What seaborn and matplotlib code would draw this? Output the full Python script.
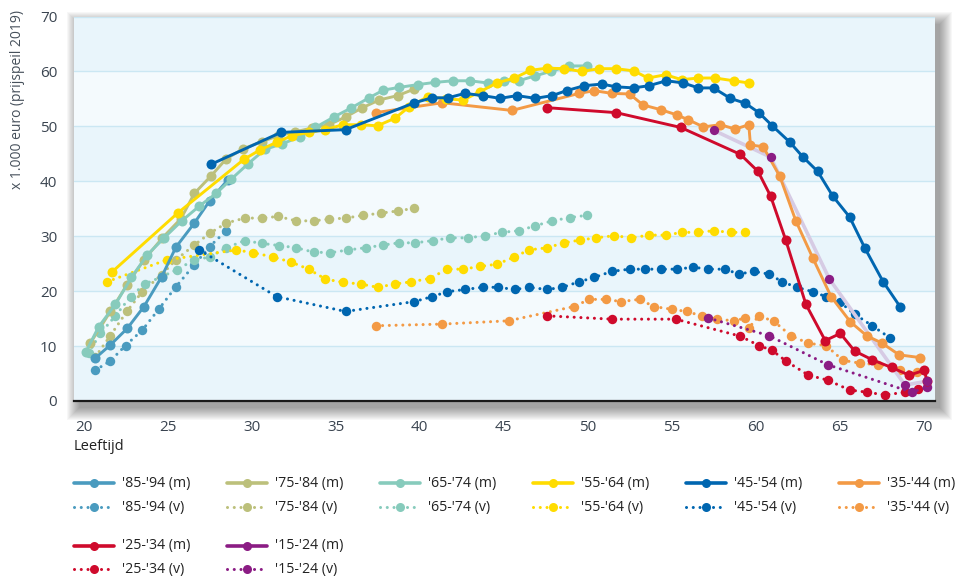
import matplotlib
matplotlib.use("Agg")
import matplotlib.pyplot as plt
from matplotlib.lines import Line2D
from matplotlib.patches import Rectangle
import seaborn as sns

# Inkomen naar leeftijd per geboortecohort, x 1.000 euro (prijspeil 2019)
age_85m = [20.7, 21.6, 22.6, 23.6, 24.65, 25.5, 26.6, 27.5, 28.6]
inc_85m = [7.8, 10.2, 13.2, 17.2, 22.6, 28.0, 32.4, 36.4, 40.3]
age_85v = [20.7, 21.6, 22.5, 23.5, 24.5, 25.5, 26.6, 27.5, 28.5]
inc_85v = [5.6, 7.3, 10.1, 12.9, 16.8, 20.8, 24.8, 28.1, 31.0]

age_75m = [20.4, 21.6, 22.6, 23.6, 24.7, 25.8, 26.6, 27.6, 28.5, 29.5, 30.6, 31.6, 32.6,
           33.6, 34.6, 35.6, 36.6, 37.6, 38.7, 39.7]
inc_75m = [10.5, 16.3, 21.2, 25.7, 29.7, 33.2, 37.8, 41.0, 44.1, 45.9, 47.2, 48.3, 49.0,
           49.7, 50.3, 51.7, 53.4, 54.8, 55.6, 56.8]
age_75v = [20.7, 21.6, 22.6, 23.5, 24.65, 25.5, 26.6, 27.5, 28.5, 29.6, 30.6, 31.6, 32.65,
           33.7, 34.6, 35.6, 36.65, 37.7, 38.7, 39.7]
inc_75v = [8.0, 11.9, 16.4, 19.9, 23.0, 25.7, 28.4, 30.5, 32.4, 33.3, 33.3, 33.6, 32.8,
           32.8, 33.1, 33.3, 33.8, 34.2, 34.6, 35.1]

age_65m = [20.15, 20.9, 21.9, 22.85, 23.8, 24.8, 25.85, 26.9, 27.9, 28.8, 29.8, 30.8, 31.8,
           32.9, 33.8, 34.9, 35.9, 37.0, 37.85, 38.8, 39.9, 40.9, 42.0, 43.0, 44.05, 45.0,
           45.9, 46.9, 47.8, 48.9, 49.95]
inc_65m = [9.0, 13.5, 17.6, 22.5, 26.6, 29.7, 32.8, 35.5, 37.8, 40.4, 43.2, 45.8, 46.8,
           48.1, 49.8, 51.7, 53.3, 55.2, 56.6, 57.1, 57.6, 58.0, 58.3, 58.3, 57.9, 58.3,
           58.3, 59.2, 60.0, 61.0, 61.0]
age_65v = [20.3, 21.0, 21.9, 22.8, 23.65, 24.65, 25.55, 26.6, 27.5, 28.5, 29.6, 30.6, 31.65,
           32.65, 33.7, 34.7, 35.75, 36.8, 37.85, 38.8, 39.75, 40.8, 41.8, 42.9, 43.9, 44.9,
           45.9, 46.9, 47.9, 48.95, 49.95]
inc_65v = [8.7, 12.3, 15.5, 19.0, 21.3, 22.6, 23.9, 25.7, 26.2, 27.9, 29.2, 28.7, 28.3,
           27.9, 27.1, 27.0, 27.5, 27.9, 28.4, 28.8, 28.8, 29.2, 29.7, 29.7, 30.1, 30.7,
           31.0, 31.9, 32.8, 33.4, 33.8]

age_55m = [21.7, 25.6, 29.55, 30.5, 31.5, 32.4, 33.4, 34.4, 35.45, 36.5, 37.5, 38.55, 39.4,
           40.5, 41.6, 42.6, 43.6, 44.6, 45.65, 46.6, 47.6, 48.6, 49.65, 50.7, 51.7, 52.75,
           53.6, 54.65, 55.6, 56.6, 57.6, 58.7, 59.6]
inc_55m = [23.5, 34.2, 44.0, 45.7, 47.1, 48.3, 48.9, 49.4, 50.3, 50.3, 50.1, 51.5, 53.6,
           55.4, 55.0, 54.8, 56.3, 57.9, 58.8, 60.2, 60.6, 60.5, 60.0, 60.5, 60.5, 60.1,
           58.8, 59.4, 58.5, 58.8, 58.8, 58.3, 57.9]
age_55v = [21.4, 24.95, 29.1, 30.1, 31.3, 32.35, 33.4, 34.4, 35.45, 36.5, 37.5, 38.55, 39.5,
           40.6, 41.65, 42.6, 43.6, 44.6, 45.65, 46.5, 47.6, 48.6, 49.55, 50.5, 51.6, 52.6,
           53.65, 54.7, 55.6, 56.6, 57.5, 58.55, 59.4]
inc_55v = [21.7, 25.7, 27.5, 27.0, 26.2, 25.3, 24.0, 22.2, 21.6, 21.3, 20.7, 21.3, 21.7,
           22.3, 24.0, 24.0, 24.5, 24.9, 26.2, 27.5, 27.9, 28.8, 29.3, 29.7, 30.1, 29.7,
           30.2, 30.2, 30.7, 30.7, 31.0, 30.7, 30.7]

age_45m = [27.6, 31.75, 35.6, 39.7, 40.75, 41.7, 42.7, 43.75, 44.8, 45.8, 46.9, 47.9, 48.75,
           49.8, 50.85, 51.7, 52.75, 53.65, 54.7, 55.7, 56.6, 57.5, 58.5, 59.4, 60.2, 61.0,
           62.05, 62.8, 63.7, 64.6, 65.6, 66.5, 67.6, 68.6]
inc_45m = [43.1, 48.9, 49.4, 54.3, 55.2, 55.2, 56.0, 55.6, 55.1, 55.6, 55.1, 55.6, 56.5,
           57.4, 57.7, 57.2, 57.0, 57.4, 58.3, 57.9, 57.0, 57.0, 55.1, 54.2, 52.5, 50.1,
           47.1, 44.5, 41.8, 37.3, 33.5, 27.9, 21.7, 17.2]
age_45v = [26.9, 31.5, 35.6, 39.7, 40.75, 41.65, 42.7, 43.75, 44.65, 45.7, 46.5, 47.6, 48.5,
           49.5, 50.4, 51.45, 52.5, 53.4, 54.4, 55.3, 56.3, 57.2, 58.2, 59.0, 59.9, 60.8,
           61.6, 62.45, 63.4, 64.2, 65.0, 65.9, 66.95, 68.0]
inc_45v = [27.5, 19.0, 16.3, 18.1, 19.0, 19.9, 20.3, 20.7, 20.7, 20.3, 20.7, 20.3, 20.7,
           21.7, 22.5, 23.6, 24.0, 24.0, 24.0, 24.0, 24.35, 24.0, 24.0, 23.1, 23.6, 23.1,
           21.7, 20.7, 19.9, 19.0, 18.1, 15.8, 13.7, 11.5]

age_35m = [37.4, 41.35, 45.5, 49.5, 50.4, 51.45, 52.5, 53.3, 54.4, 55.3, 56.0, 56.9, 57.9,
           58.8, 59.6, 59.7, 60.45, 61.45, 62.4, 63.4, 64.5, 65.65, 66.65, 67.5, 68.55, 69.8]
inc_35m = [52.5, 54.3, 52.9, 56.0, 56.5, 56.0, 55.9, 53.9, 53.0, 52.1, 51.2, 49.9, 50.3,
           49.5, 50.3, 46.6, 46.3, 40.9, 32.8, 26.1, 19.0, 14.4, 11.8, 10.6, 8.4, 7.9]
age_35v = [37.4, 41.35, 45.3, 49.2, 50.1, 51.1, 52.0, 53.1, 53.95, 55.0, 55.9, 56.8, 57.7,
           58.7, 59.4, 59.6, 60.2, 61.1, 62.1, 63.15, 64.2, 65.2, 66.2, 67.3, 68.6, 69.6]
inc_35v = [13.7, 14.0, 14.6, 17.2, 18.5, 18.5, 18.1, 18.5, 17.2, 16.7, 16.3, 15.5, 14.9,
           14.6, 15.1, 13.3, 15.5, 14.5, 11.9, 10.5, 10.1, 7.4, 6.9, 6.6, 5.6, 5.2]

age_25m = [47.6, 51.7, 55.55, 59.1, 60.15, 60.9, 61.8, 63.0, 64.15, 65.05, 65.9, 66.95,
           68.1, 69.15, 70.05, 70.2]
inc_25m = [53.4, 52.5, 49.8, 44.9, 41.8, 37.3, 29.3, 17.6, 11.0, 12.3, 9.1, 7.5,
           6.1, 4.7, 5.6, 3.7]
age_25v = [47.6, 51.45, 55.25, 59.1, 60.2, 61.0, 61.8, 63.15, 64.3, 65.6, 66.65, 67.7,
           68.9, 69.65]
inc_25v = [15.5, 14.9, 14.9, 11.8, 10.1, 9.2, 7.3, 4.7, 3.8, 2.0, 1.6, 1.1, 1.6, 2.1]

age_15m = [57.5, 60.9, 64.4, 68.9, 70.2]
inc_15m = [49.3, 44.4, 22.2, 2.9, 3.6]
age_15v = [57.2, 60.8, 64.3, 69.3, 70.2]
inc_15v = [15.1, 11.9, 6.6, 1.6, 2.5]

cohorts = ["'85-'94", "'75-'84", "'65-'74", "'55-'64", "'45-'54", "'35-'44", "'25-'34", "'15-'24"]
colors = ["#4a9bbf", "#bcc07b", "#87cbbc", "#ffdc00", "#0066b0", "#f39a45", "#cf0a2c", "#8b1c84"]
lavender = "#d6cbe4"

men = [(age_85m, inc_85m), (age_75m, inc_75m), (age_65m, inc_65m), (age_55m, inc_55m),
       (age_45m, inc_45m), (age_35m, inc_35m), (age_25m, inc_25m), (age_15m, inc_15m)]
women = [(age_85v, inc_85v), (age_75v, inc_75v), (age_65v, inc_65v), (age_55v, inc_55v),
         (age_45v, inc_45v), (age_35v, inc_35v), (age_25v, inc_25v), (age_15v, inc_15v)]

W, H = 959, 578
DOT = (0, (0.01, 2.2))

sns.set_theme(style="white")
plt.rcParams["font.family"] = ["Open Sans", "DejaVu Sans"]

fig = plt.figure(figsize=(W / 100, H / 100), dpi=100)
ax_l, ax_r, ax_t, ax_b = 74, 935, 16.5, 401
ax = fig.add_axes([ax_l / W, 1 - ax_b / H, (ax_r - ax_l) / W, (ax_b - ax_t) / H])

# drop shadow behind the plot area
for i in range(13):
    fig.add_artist(Rectangle(((ax_l + 5 - i) / W, 1 - (ax_b + 7 + i) / H),
                             (ax_r - ax_l + 2 * i) / W, (ax_b - ax_t + 2 * i) / H,
                             transform=fig.transFigure, color="black", alpha=0.03,
                             lw=0, zorder=-1))

ax.set_facecolor("#f4fafd")
for lo in range(0, 70, 20):
    ax.axhspan(lo, lo + 10, color="#e9f5fb", lw=0, zorder=0)
for g in range(10, 80, 10):
    ax.axhline(g, color="#cbe7f3", lw=1, zorder=0.5)

# women first (dotted), then men (solid)
for (ages, vals), col in zip(women, colors):
    sns.lineplot(x=ages, y=vals, ax=ax, color=col, lw=2.2, linestyle=DOT,
                 dash_capstyle="round", marker="o", ms=6.8, mec=col, mew=0,
                 estimator=None, sort=False, legend=False, zorder=2)

for k in [7, 6, 5, 0, 1, 2, 3, 4]:
    ages, vals = men[k]
    col = colors[k]
    if k == 7:
        sns.lineplot(x=ages, y=vals, ax=ax, color=lavender, lw=2.6,
                     estimator=None, sort=False, legend=False, zorder=3)
        sns.scatterplot(x=ages, y=vals, ax=ax, color=col, s=45, linewidth=0,
                        legend=False, zorder=4)
    else:
        sns.lineplot(x=ages, y=vals, ax=ax, color=col, lw=2.1, marker="o", ms=7.2,
                     mec=col, mew=0, estimator=None, sort=False, legend=False, zorder=3)

ax.set_xlim(20 + (ax_l - 83.5) / 16.8, 20 + (ax_r - 83.5) / 16.8)
ax.set_ylim(0, 70)
ax.set_xticks(range(20, 71, 5))
ax.set_yticks(range(0, 71, 10))
ax.tick_params(axis="both", length=0, labelsize=11, labelcolor="#3a4450")
ax.tick_params(axis="x", pad=14)
ax.tick_params(axis="y", pad=12)
for s in ["top", "right", "left"]:
    ax.spines[s].set_visible(False)
ax.spines["bottom"].set_color("#1a1a1a")
ax.spines["bottom"].set_linewidth(1.6)
ax.set_xlabel("")
ax.set_ylabel("")

fig.text(18 / W, 1 - 10 / H, "x 1.000 euro (prijspeil 2019)", rotation=90,
         ha="center", va="top", fontsize=10, color="#46505b")
fig.text(74 / W, 1 - 447 / H, "Leeftijd", ha="left", va="center", fontsize=10.5,
         color="#222222")

# legend drawn by hand: two blocks, men above women
col_x = [74, 227, 380, 533, 686, 839]
rows = [(483, 507, range(0, 6)), (546, 569, range(6, 8))]
for y_m, y_v, idx in rows:
    for c, k in enumerate(idx):
        x0 = col_x[c]
        col = colors[k]
        for y, ls, sx in [(y_m, "-", "m"), (y_v, DOT, "v")]:
            fig.add_artist(Line2D([x0 / W, (x0 + 40) / W], [1 - y / H, 1 - y / H],
                                  transform=fig.transFigure, color=col, lw=2.6 if sx == "m" else 2.2,
                                  linestyle=ls, dash_capstyle="round"))
            fig.add_artist(Line2D([(x0 + 20) / W], [1 - y / H], transform=fig.transFigure,
                                  marker="o", ms=6.5, color=col, mew=0, linestyle="none"))
            fig.text((x0 + 48) / W, 1 - y / H, f"{cohorts[k]} ({sx})", ha="left",
                     va="center", fontsize=10.2, color="#222222")

fig.savefig("out.png", dpi=100)
